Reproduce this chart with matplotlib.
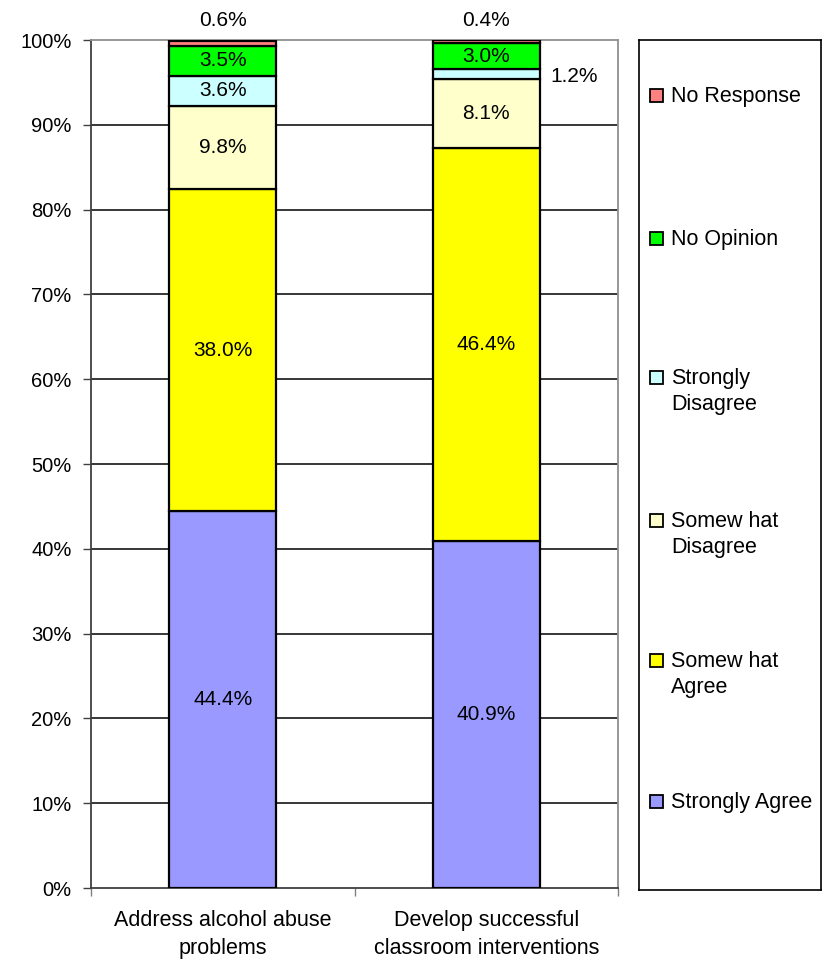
import matplotlib
matplotlib.use("Agg")
import matplotlib.pyplot as plt
from matplotlib.patches import Rectangle
import numpy as np

plt.rcParams['font.family'] = ['Liberation Sans', 'DejaVu Sans']

categories = ["Address alcohol abuse\nproblems", "Develop successful\nclassroom interventions"]
series_names = ["Strongly Agree", "Somew hat\nAgree", "Somew hat\nDisagree",
                "Strongly\nDisagree", "No Opinion", "No Response"]
strongly_agree = [44.4, 40.9]
somewhat_agree = [38.0, 46.4]
somewhat_disagree = [9.8, 8.1]
strongly_disagree = [3.6, 1.2]
no_opinion = [3.5, 3.0]
no_response = [0.6, 0.4]
series_values = [strongly_agree, somewhat_agree, somewhat_disagree,
                 strongly_disagree, no_opinion, no_response]
colors = ["#9999FF", "#FFFF00", "#FFFFCC", "#CCFFFF", "#00FF00", "#FF8080"]
yticks = [0, 10, 20, 30, 40, 50, 60, 70, 80, 90, 100]
ytick_labels = [f"{v}%" for v in yticks]

W, H = 824, 959
fig = plt.figure(figsize=(W / 100, H / 100), dpi=100)
ax = fig.add_axes([91 / W, (H - 888) / H, (618 - 91) / W, (888 - 40) / H])

FS_TICK = 14.5
FS_DATA = 15
FS_CAT = 15.5
FS_LEG = 15.5

x = np.arange(len(categories))
bottom = np.zeros(len(categories))
for vals, col in zip(series_values, colors):
    vals = np.array(vals)
    ax.bar(x, vals, width=0.405, bottom=bottom, color=col, edgecolor="black",
           linewidth=1.6, zorder=3)
    for i, v in enumerate(vals):
        label = f"{v:.1f}%"
        if v < 1:
            ax.annotate(label, (x[i], 100), xytext=(0, 20), textcoords="offset pixels",
                        ha="center", va="center", fontsize=FS_DATA)
        elif v < 2:
            ax.annotate(label, (x[i] + 0.2025, bottom[i] + v / 2), xytext=(35, -3),
                        textcoords="offset pixels", ha="center", va="center",
                        fontsize=FS_DATA)
        else:
            ax.text(x[i], bottom[i] + v / 2, label, ha="center", va="center",
                    fontsize=FS_DATA, zorder=4)
    bottom = bottom + vals

ax.set_xlim(-0.5, 1.5)
ax.set_ylim(0, 100)
ax.set_yticks(yticks)
ax.set_yticklabels(ytick_labels, fontsize=FS_TICK)
for v in yticks[1:-1]:
    ax.axhline(v, color="black", linewidth=1.1, zorder=1)
ax.set_xticks([-0.5, 0.5, 1.5])
ax.set_xticklabels([])
ax.tick_params(axis="x", length=6, width=1, color="#808080")
ax.tick_params(axis="y", length=6, width=1, color="#404040", pad=8)
for i, c in enumerate(categories):
    ax.annotate(c, (x[i], 0), xytext=(0, -22), textcoords="offset pixels",
                ha="center", va="top", fontsize=FS_CAT, linespacing=1.45)
ax.spines["top"].set_color("#909090")
ax.spines["right"].set_color("#909090")
ax.spines["left"].set_color("#404040")
ax.spines["bottom"].set_color("#404040")
for s in ax.spines.values():
    s.set_linewidth(1.3)

# legend box
lax = fig.add_axes([639 / W, (H - 890) / H, (821 - 639) / W, (890 - 40) / H])
lax.set_xlim(0, 182)
lax.set_ylim(850, 0)
lax.set_xticks([])
lax.set_yticks([])
for s in lax.spines.values():
    s.set_color("black")
    s.set_linewidth(1.2)
entry_y = [761, 620, 480, 337, 198, 55]
for name, col, yy in zip(series_names, colors, entry_y):
    lax.add_patch(Rectangle((11, yy - 6.5), 13, 13, facecolor=col, edgecolor="black",
                            linewidth=1.3))
    lax.text(32, yy - 9, name, ha="left", va="top", fontsize=FS_LEG, linespacing=1.3)

fig.savefig("out.png", dpi=100)
